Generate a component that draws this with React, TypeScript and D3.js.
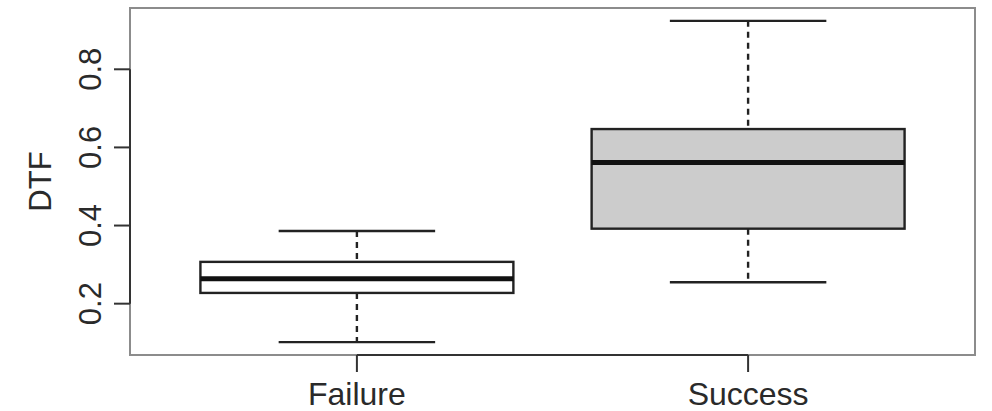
import React from 'react'
import * as d3 from 'd3'

// box stats: lower whisker, q1, median, q3, upper whisker
const groups = ['Failure', 'Success']
const lowerWhisker = [0.1015, 0.2548]
const q1 = [0.2275, 0.392]
const medians = [0.2635, 0.5617]
const q3 = [0.307, 0.647]
const upperWhisker = [0.386, 0.924]
const fills = ['#ffffff', '#cccccc']
const yTicks = [0.2, 0.4, 0.6, 0.8]

const W = 992
const H = 411
const margin = { top: 8, right: 17, bottom: 56, left: 130 }

export default function App() {
    const innerW = W - margin.left - margin.right
    const innerH = H - margin.top - margin.bottom

    // R style: data range plus 4% each side
    const lo = d3.min(lowerWhisker) as number
    const hi = d3.max(upperWhisker) as number
    const pad = (hi - lo) * 0.04

    const xScale = d3.scaleLinear()
        .domain([0.5 - 0.08, groups.length + 0.5 + 0.08])
        .range([margin.left, margin.left + innerW])

    const yScale = d3.scaleLinear()
        .domain([lo - pad, hi + pad])
        .range([margin.top + innerH, margin.top])

    const boxHalf = (xScale(1.4) - xScale(1)) // 0.8 box width
    const capHalf = boxHalf / 2
    const font = '"Liberation Sans", Arial, sans-serif'
    const textColor = '#2a2a2a'
    const bottom = margin.top + innerH

    return (
        <svg width={W} height={H} style={{ position: 'absolute', left: 0, top: 0, background: '#fff' }}>
            {/* plot frame */}
            <rect x={margin.left} y={margin.top} width={innerW} height={innerH}
                fill="none" stroke="#8c8c8c" strokeWidth={2} />

            {groups.map((g, i) => {
                const cx = xScale(i + 1)
                return (
                    <g key={g} stroke="#222" strokeWidth={2.4}>
                        <line x1={cx} x2={cx} y1={yScale(upperWhisker[i])} y2={yScale(q3[i])}
                            strokeDasharray="6 5" />
                        <line x1={cx} x2={cx} y1={yScale(q1[i])} y2={yScale(lowerWhisker[i])}
                            strokeDasharray="6 5" />
                        <line x1={cx - capHalf} x2={cx + capHalf}
                            y1={yScale(upperWhisker[i])} y2={yScale(upperWhisker[i])} />
                        <line x1={cx - capHalf} x2={cx + capHalf}
                            y1={yScale(lowerWhisker[i])} y2={yScale(lowerWhisker[i])} />
                        <rect x={cx - boxHalf} width={boxHalf * 2}
                            y={yScale(q3[i])} height={yScale(q1[i]) - yScale(q3[i])}
                            fill={fills[i]} />
                        <line x1={cx - boxHalf} x2={cx + boxHalf}
                            y1={yScale(medians[i])} y2={yScale(medians[i])}
                            stroke="#111" strokeWidth={5} />
                    </g>
                )
            })}

            {/* y axis */}
            <g stroke="#333" strokeWidth={2}>
                <line x1={margin.left} x2={margin.left}
                    y1={yScale(yTicks[0])} y2={yScale(yTicks[yTicks.length - 1])} />
                {yTicks.map(t => (
                    <line key={t} x1={margin.left} x2={margin.left - 16} y1={yScale(t)} y2={yScale(t)} />
                ))}
            </g>
            {yTicks.map(t => (
                <text key={t} transform={`translate(101,${yScale(t)}) rotate(-90)`}
                    textAnchor="middle" fontFamily={font} fontSize={31} fill={textColor}>
                    {d3.format('.1f')(t)}
                </text>
            ))}
            <text transform={`translate(51,${margin.top + innerH / 2}) rotate(-90)`}
                textAnchor="middle" fontFamily={font} fontSize={31} fill={textColor}>DTF</text>

            {/* x axis */}
            <g stroke="#333" strokeWidth={2}>
                <line x1={xScale(1)} x2={xScale(groups.length)} y1={bottom} y2={bottom} />
                {groups.map((g, i) => (
                    <line key={g} x1={xScale(i + 1)} x2={xScale(i + 1)} y1={bottom} y2={bottom + 17} />
                ))}
            </g>
            {groups.map((g, i) => (
                <text key={g} x={xScale(i + 1)} y={405} textAnchor="middle"
                    fontFamily={font} fontSize={32} fill={textColor}>{g}</text>
            ))}
        </svg>
    )
}
